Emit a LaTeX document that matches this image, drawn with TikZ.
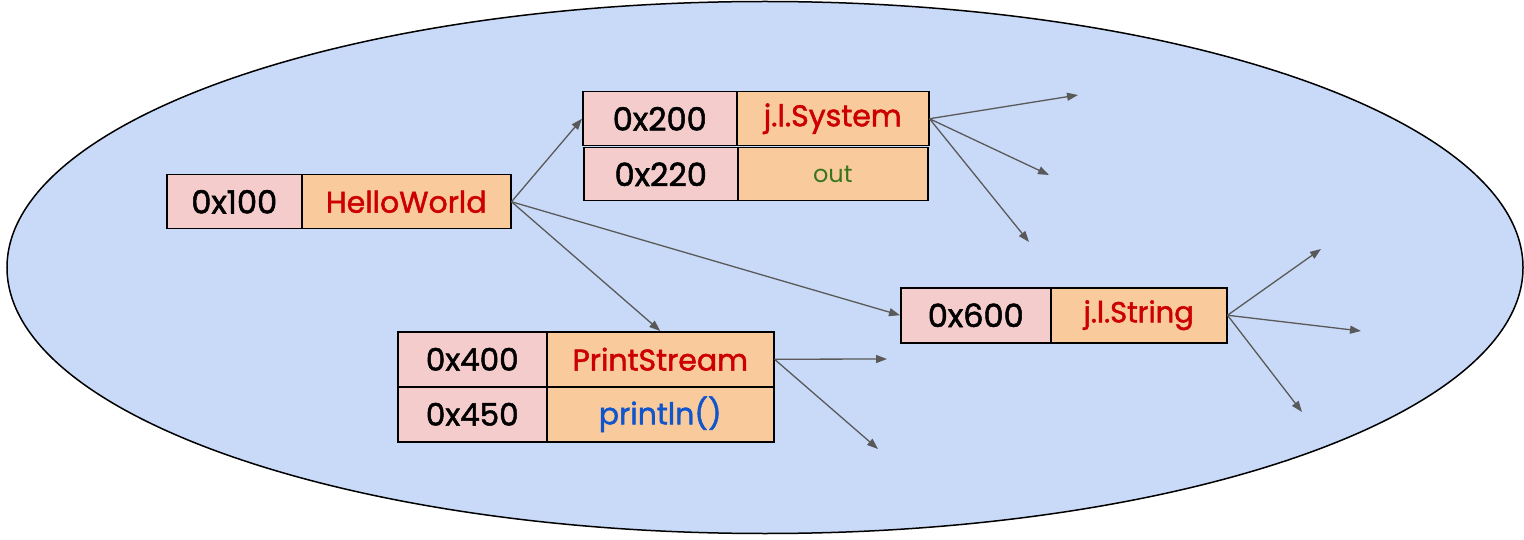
\documentclass[tikz,border=0pt]{standalone}
\usepackage{fontspec}
\setmainfont{Poppins}
\newfontfamily\medfont{Poppins}[FakeBold=1.6]
\usetikzlibrary{arrows.meta}
\definecolor{ellfill}{HTML}{C9DAF8}
\definecolor{pinkc}{HTML}{F4CCCC}
\definecolor{orangec}{HTML}{F9CB9C}
\definecolor{redt}{HTML}{CC0000}
\definecolor{bluet}{HTML}{1155CC}
\definecolor{greent}{HTML}{38761D}
\definecolor{arrowc}{HTML}{595959}
\begin{document}
\begin{tikzpicture}[x=1pt,y=-1pt,
  cell/.style={draw=black, line width=1.5pt, inner sep=0pt, anchor=north west},
  pinkcell/.style={cell, fill=pinkc, font=\medfont\fontsize{32}{34}\selectfont},
  orcell/.style={cell, fill=orangec, font=\medfont\fontsize{30}{32}\selectfont},
  conn/.style={draw=arrowc, line width=1.3pt, -{Triangle[length=11pt,width=8pt]}}]
\useasboundingbox (0,0) rectangle (1524,540);
\draw[fill=ellfill, line width=1.5pt] (765,267.5) ellipse [x radius=758pt, y radius=266pt];

% HelloWorld
\node[pinkcell, minimum width=135pt, minimum height=54pt] (hwa) at (166,174) {0x100};
\node[orcell, minimum width=209pt, minimum height=54pt, text=redt] (hw) at (301,174) {HelloWorld};
% System
\node[pinkcell, minimum width=154pt, minimum height=54pt] (sysa) at (582,91) {0x200};
\node[orcell, minimum width=192pt, minimum height=54pt, text=redt] (sys) at (736,91) {j.l.System};
\node[pinkcell, minimum width=154pt, minimum height=53pt] (outa) at (583,147) {0x220};
\node[orcell, minimum width=190pt, minimum height=53pt, text=greent, font=\normalfont\fontsize{24}{26}\selectfont] (out) at (737,147) {out};
% PrintStream
\node[pinkcell, minimum width=149pt, minimum height=55pt, font=\medfont\fontsize{31}{33}\selectfont] (psa) at (397,331) {0x400};
\node[orcell, minimum width=227pt, minimum height=55pt, text=redt] (ps) at (546,331) {PrintStream};
\node[pinkcell, minimum width=149pt, minimum height=55pt, font=\medfont\fontsize{31}{33}\selectfont] (pla) at (397,386) {0x450};
\node[orcell, minimum width=227pt, minimum height=55pt, text=bluet] (pl) at (546,386) {println()};
% String
\node[pinkcell, minimum width=150pt, minimum height=55pt] (stra) at (900,287) {0x600};
\node[orcell, minimum width=176pt, minimum height=55pt, text=redt, font=\medfont\fontsize{29}{31}\selectfont] (str) at (1050,287) {j.l.String};

% free ends
\coordinate (s1) at (1078,95);
\coordinate (s2) at (1049,175);
\coordinate (s3) at (1029,242);
\coordinate (p1) at (887,359);
\coordinate (p2) at (878,449);
\coordinate (t1) at (1321,249);
\coordinate (t2) at (1361,331);
\coordinate (t3) at (1302,412);

\draw[conn] (hw.east) -- (sysa.west);
\draw[conn] (hw.east) -- (ps.north);
\draw[conn] (hw.east) -- (stra.west);
\draw[conn] (sys.east) -- (s1);
\draw[conn] (sys.east) -- (s2);
\draw[conn] (sys.east) -- (s3);
\draw[conn] (ps.east) -- (p1);
\draw[conn] (ps.east) -- (p2);
\draw[conn] (str.east) -- (t1);
\draw[conn] (str.east) -- (t2);
\draw[conn] (str.east) -- (t3);
\end{tikzpicture}
\end{document}
